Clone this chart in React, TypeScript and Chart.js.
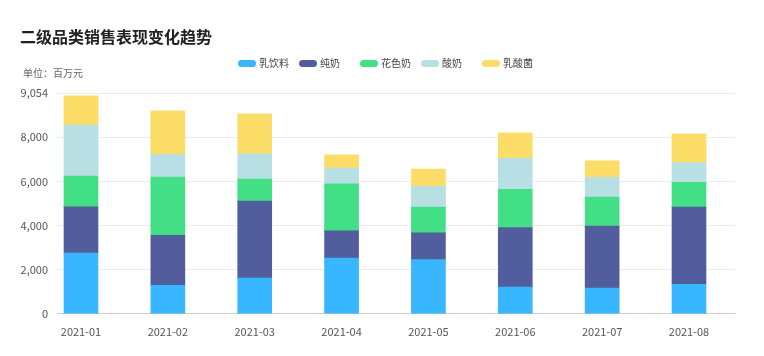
import React, { useEffect, useRef } from "react";
import { Chart, registerables } from "chart.js";

Chart.register(...registerables);

const title = "二级品类销售表现变化趋势";
const unitLabel = "单位：百万元";
const months = ["2021-01", "2021-02", "2021-03", "2021-04", "2021-05", "2021-06", "2021-07", "2021-08"];
const yTickLabels = ["0", "2,000", "4,000", "6,000", "8,000", "9,054"];

const seriesNames = ["乳饮料", "纯奶", "花色奶", "酸奶", "乳酸菌"];
const seriesColors = ["#38b6ff", "#525d9e", "#43df87", "#b8dfe3", "#fcdd68"];

const milkDrink = [2755, 1286, 1618, 2527, 2455, 1209, 1164, 1332];
const pureMilk = [2090, 2273, 3487, 1228, 1209, 2700, 2804, 3500];
const flavoredMilk = [1396, 2636, 1000, 2136, 1168, 1727, 1318, 1123];
const yogurt = [2304, 1032, 1136, 714, 941, 1409, 896, 890];
const lactobacillus = [1332, 1968, 1818, 590, 786, 1150, 741, 1305];

const seriesValues = [milkDrink, pureMilk, flavoredMilk, yogurt, lactobacillus];

const FONT = "'Noto Sans CJK SC', 'Noto Sans', sans-serif";

export default function App() {
  const ref = useRef<HTMLCanvasElement | null>(null);

  useEffect(() => {
    if (!ref.current) return;
    const chart = new Chart(ref.current, {
      type: "bar",
      data: {
        datasets: seriesNames.map((name, si) => ({
          label: name,
          data: seriesValues[si].map((v, i) => ({ x: i, y: v })),
          backgroundColor: seriesColors[si],
          borderWidth: 0,
          barThickness: 34,
        })),
      },
      options: {
        responsive: false,
        animation: false,
        devicePixelRatio: 1,
        layout: { padding: { left: 20, right: 29, top: 93, bottom: 7 } },
        plugins: {
          legend: { display: false },
          title: { display: false },
          tooltip: { enabled: false },
        },
        scales: {
          x: {
            type: "linear",
            stacked: true,
            offset: false,
            min: -0.2763,
            max: 7.5296,
            grid: { display: false, drawTicks: false },
            border: { display: true, color: "#cccccc", width: 1 },
            afterBuildTicks: (scale: any) => {
              scale.ticks = months.map((_, i) => ({ value: i }));
            },
            ticks: {
              autoSkip: false,
              maxRotation: 0,
              padding: 11,
              color: "#555555",
              font: { family: FONT, size: 11 },
              callback: (v: any) => months[v as number] ?? "",
            },
          },
          y: {
            type: "linear",
            stacked: true,
            min: 0,
            max: 10000,
            afterFit: (scale: any) => {
              scale.width = 37;
            },
            grid: { color: "#ececec", lineWidth: 1, drawTicks: false },
            border: { display: false },
            ticks: {
              stepSize: 2000,
              padding: 9,
              color: "#555555",
              font: { family: FONT, size: 11 },
              callback: (_v: any, i: number) => yTickLabels[i] ?? "",
            },
          },
        },
      },
    });
    return () => chart.destroy();
  }, []);

  return (
    <div style={{ position: "absolute", left: 0, top: 0, width: 764, height: 356, background: "#fff", fontFamily: FONT }}>
      <canvas ref={ref} width={764} height={356} style={{ position: "absolute", left: 0, top: 0, width: 764, height: 356 }} />
      <div style={{ position: "absolute", left: 20, top: 26, fontSize: 16, lineHeight: "20px", fontWeight: 700, color: "#222", whiteSpace: "nowrap" }}>
        {title}
      </div>
      <div style={{ position: "absolute", left: 23, top: 66, fontSize: 10, lineHeight: "14px", color: "#666", whiteSpace: "nowrap" }}>
        {unitLabel}
      </div>
      <div style={{ position: "absolute", left: 238, top: 56, display: "flex", height: 14 }}>
        {seriesNames.map((n, i) => (
          <div key={n} style={{ width: 61, display: "flex", alignItems: "center" }}>
            <span style={{ display: "inline-block", width: 18, height: 7, borderRadius: 4, background: seriesColors[i], marginRight: 3 }} />
            <span style={{ fontSize: 10, lineHeight: "14px", color: "#444", whiteSpace: "nowrap" }}>{n}</span>
          </div>
        ))}
      </div>
    </div>
  );
}
